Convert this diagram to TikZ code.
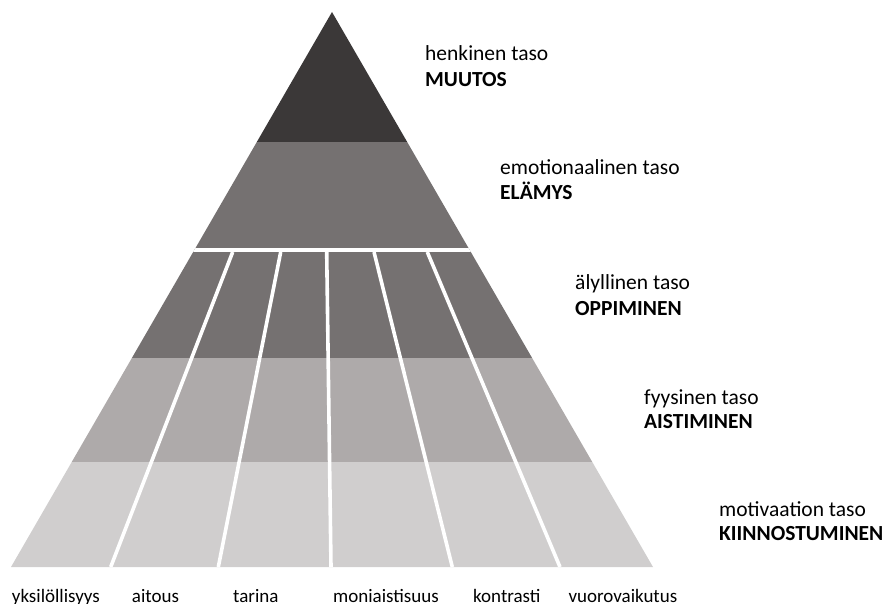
\documentclass[tikz,border=0pt]{standalone}
\usepackage{fontspec}
\setmainfont{Carlito}
\definecolor{lvlTop}{HTML}{3B3838}
\definecolor{lvlMid}{HTML}{757171}
\definecolor{lvlLow}{HTML}{AEAAAA}
\definecolor{lvlBase}{HTML}{D0CECE}
\begin{document}
\begin{tikzpicture}[x=1pt,y=-1pt,
  lvlname/.style={anchor=base west, inner sep=0pt, font=\fontsize{21.5}{25}\selectfont},
  lvlkey/.style={lvlname, font=\fontsize{21.5}{25}\selectfont\bfseries},
  colname/.style={anchor=base west, inner sep=0pt, font=\fontsize{19}{23}\selectfont},
  divider/.style={white, line width=3.6pt}]
\useasboundingbox (0,0) rectangle (888,604);

% pyramid outline
\coordinate (apex) at (332,12);
\coordinate (bl) at (11,567);
\coordinate (br) at (653,567);

\begin{scope}
  \clip (apex) -- (br) -- (bl) -- cycle;
  % horizontal levels
  \fill[lvlTop]  (0,0)     rectangle (888,142);
  \fill[lvlMid]  (0,142)   rectangle (888,357.5);
  \fill[lvlLow]  (0,357.5) rectangle (888,462);
  \fill[lvlBase] (0,462)   rectangle (888,570);
  % gap under the emotional level
  \draw[divider, line width=4pt] (0,250) -- (888,250);
  % slanted column dividers
  \foreach \t/\b in {232.7/110.7, 280.7/218.3, 326.7/331, 374/452.3, 427.3/560}
    \draw[divider] (\t,252) -- (\b,567);
\end{scope}

% level labels
\node[lvlname] (l1a) at (425,61)    {henkinen taso};
\node[lvlkey]  (l1b) at (425,87)    {MUUTOS};
\node[lvlname] (l2a) at (500,175)   {emotionaalinen taso};
\node[lvlkey]  (l2b) at (500,200)   {ELÄMYS};
\node[lvlname] (l3a) at (575,289.3) {älyllinen taso};
\node[lvlkey]  (l3b) at (575,315)   {OPPIMINEN};
\node[lvlname] (l4a) at (644,404)   {fyysinen taso};
\node[lvlkey]  (l4b) at (644,428.3) {AISTIMINEN};
\node[lvlname] (l5a) at (719,516.7) {motivaation taso};
\node[lvlkey]  (l5b) at (719,540.7) {KIINNOSTUMINEN};

% column labels
\node[colname] (c1) at (11.7,602)  {yksilöllisyys};
\node[colname] (c2) at (131.7,602) {aitous};
\node[colname] (c3) at (233,602)   {tarina};
\node[colname] (c4) at (333,602)   {moniaistisuus};
\node[colname] (c5) at (473,602)   {kontrasti};
\node[colname] (c6) at (568.3,602) {vuorovaikutus};
\end{tikzpicture}
\end{document}
